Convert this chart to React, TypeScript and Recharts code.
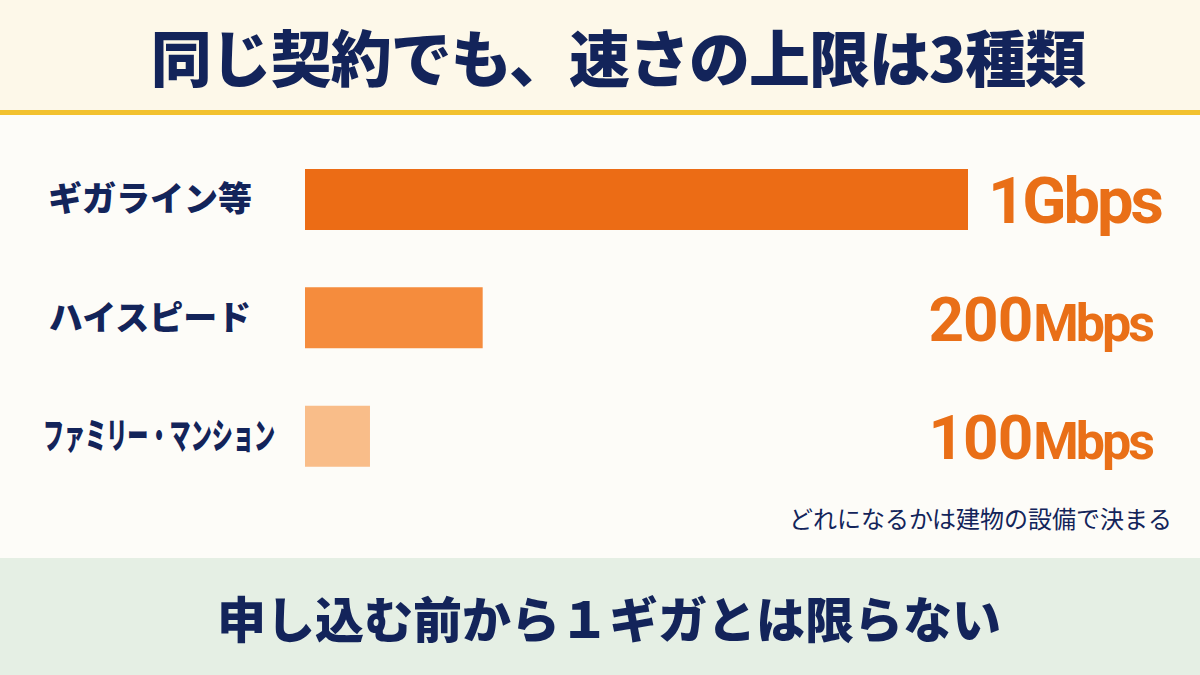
import React from 'react';
import { Bar, BarChart, Cell, LabelList, XAxis, YAxis } from 'recharts';

// plans and the bar lengths as drawn (the picture is not to scale for the smaller plans)
const plans = ['ギガライン等', 'ハイスピード', 'ファミリー・マンション'];
const barLengths = [1000, 268, 98];
const speedNumbers = ['1', '200', '100'];
const speedUnits = ['Gbps', 'Mbps', 'Mbps'];

const barColors = ['#ec6c15', '#f58c3d', '#f9bd89'];
const NAVY = '#13245a';
const VALUE_COLOR = '#e96f17';
const JP_FONT = '"Noto Sans CJK JP", "Noto Sans", sans-serif';

const chartData = plans.map((name, i) => ({
  name,
  length: barLengths[i],
  num: speedNumbers[i],
  unit: speedUnits[i],
}));

const PlanTick = ({ y, payload }: any) => {
  const label: string = payload.value;
  const isLong = label.length > 8;
  // the long label is squeezed sideways to fit the same column
  return (
    <text
      x={isLong ? 159 : 150}
      y={y}
      dy={isLong ? 13 : 12}
      textAnchor="middle"
      fill={NAVY}
      fontFamily={JP_FONT}
      fontWeight={900}
      fontSize={isLong ? 36 : 34}
      {...(isLong ? { textLength: 232, lengthAdjust: 'spacingAndGlyphs' } : {})}
    >
      {label}
    </text>
  );
};

// value text sits in a right-aligned column next to the bars
const SpeedLabel = (props: any) => {
  const { y, height, index } = props;
  const row = chartData[index];
  const cy = y + height / 2;
  const isGiga = row.unit === 'Gbps';
  return (
    <text
      x={isGiga ? 1161 : 1152}
      y={cy + 23}
      textAnchor="end"
      fill={VALUE_COLOR}
      fontFamily="Roboto, sans-serif"
      fontWeight={700}
    >
      <tspan fontSize={isGiga ? 65 : 62} letterSpacing={isGiga ? -3 : -1}>{row.num}</tspan>
      <tspan fontSize={isGiga ? 65 : 52} letterSpacing={-3} dx={isGiga ? 0 : 1}>{row.unit}</tspan>
    </text>
  );
};

export default function App() {
  return (
    <div
      style={{
        position: 'absolute',
        left: 0,
        top: 0,
        width: 1200,
        height: 675,
        overflow: 'hidden',
        background: '#fdfcf8',
        fontFamily: JP_FONT,
      }}
    >
      {/* header band */}
      <div
        style={{
          position: 'absolute',
          left: 0,
          top: 0,
          width: 1200,
          height: 110,
          background: '#fdf8e9',
          borderBottom: '5px solid #f2c12f',
          display: 'flex',
          alignItems: 'center',
          justifyContent: 'center',
          paddingLeft: 18,
          boxSizing: 'content-box',
        }}
      >
        <span style={{ color: NAVY, fontSize: 61, fontWeight: 900, lineHeight: 1, letterSpacing: -1 }}>
          同じ契約でも、速さの上限は3種類
        </span>
      </div>

      {/* footer band */}
      <div
        style={{
          position: 'absolute',
          left: 0,
          top: 558,
          width: 1200,
          height: 117,
          background: '#e5efe4',
          display: 'flex',
          alignItems: 'center',
          justifyContent: 'center',
          paddingLeft: 18,
          boxSizing: 'border-box',
        }}
      >
        <span style={{ color: NAVY, fontSize: 49, fontWeight: 900, lineHeight: 1 }}>
          申し込む前から１ギガとは限らない
        </span>
      </div>

      <div
        style={{
          position: 'absolute',
          right: 28,
          top: 504,
          color: NAVY,
          fontSize: 24,
          lineHeight: '28px',
          whiteSpace: 'nowrap',
        }}
      >
        どれになるかは建物の設備で決まる
      </div>

      <div style={{ position: 'absolute', left: 0, top: 0 }}>
        <BarChart
          width={1200}
          height={675}
          data={chartData}
          layout="vertical"
          margin={{ top: 140, right: 232, bottom: 180, left: 0 }}
          barSize={61}
        >
          <XAxis type="number" domain={[0, 1000]} hide />
          <YAxis
            type="category"
            dataKey="name"
            width={305}
            tickLine={false}
            axisLine={false}
            interval={0}
            tick={<PlanTick />}
          />
          <Bar dataKey="length" isAnimationActive={false}>
            {chartData.map((d, i) => (
              <Cell key={d.name} fill={barColors[i]} />
            ))}
            <LabelList dataKey="num" content={<SpeedLabel />} />
          </Bar>
        </BarChart>
      </div>
    </div>
  );
}
